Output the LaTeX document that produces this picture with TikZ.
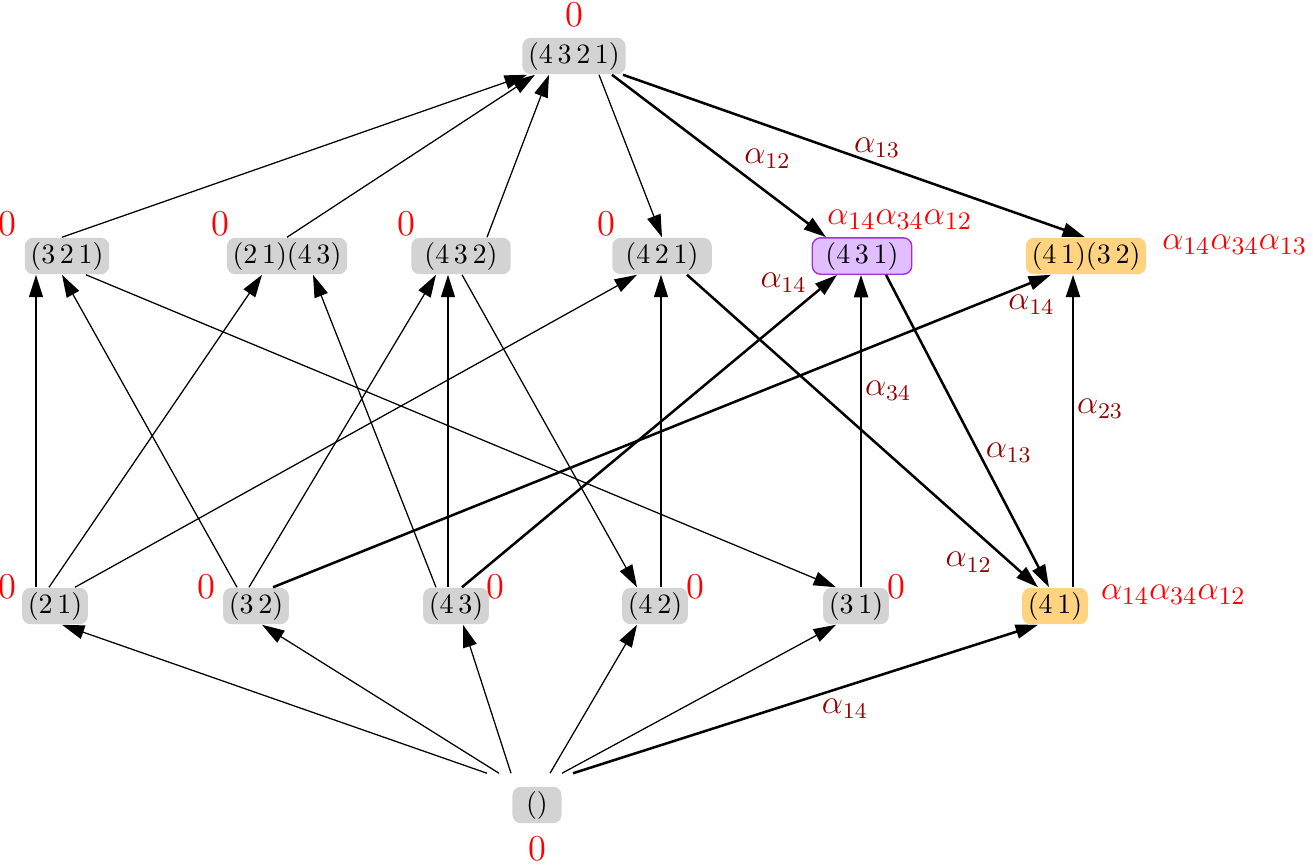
\documentclass[tikz,border=0pt]{standalone}
\usepackage{amsmath}
\usepackage{xcolor}
\usepackage{tikz}
\usetikzlibrary{calc}
\usetikzlibrary{arrows.meta}
\usetikzlibrary{positioning}

\definecolor{permgray}{RGB}{211,211,211}
\definecolor{permlilac}{RGB}{225,190,255}
\definecolor{permviolet}{RGB}{160,50,220}
\definecolor{permorange}{RGB}{255,211,127}
\definecolor{weightred}{RGB}{150,0,0}

\begin{document}
\begin{tikzpicture}[x=0.01255cm, y=-0.01255cm,
  perm/.style={fill=permgray, rounded corners=3pt, inner xsep=2pt, inner ysep=1pt,
    minimum height=13pt, minimum width=17.5pt},
  perm431/.style={perm, fill=permlilac, draw=permviolet, line width=0.5pt},
  perm41/.style={perm, fill=permorange},
  arr/.style={-{Triangle[length=8pt,width=5pt]}, line width=0.45pt},
  bigarr/.style={arr, line width=0.9pt},
  wt/.style={text=weightred, font=\fontsize{11.5}{13}\selectfont, inner sep=1pt},
  redtag/.style={text=red, font=\fontsize{13}{15}\selectfont, inner sep=0pt}]
  \useasboundingbox (0,0) rectangle (1313,864);

  % the permutations
  \node[perm] (n4321) at (574,56) {$(4\,3\,2\,1)$};
  \node[perm] (n321) at (67,256) {$(3\,2\,1)$};
  \node[perm] (n2143) at (287,256) {$(2\,1)(4\,3)$};
  \node[perm, minimum width=35.5pt] (n432) at (461,256) {$(4\,3\,2)$};
  \node[perm, minimum width=35.5pt] (n421) at (662,256) {$(4\,2\,1)$};
  \node[perm431, minimum width=35.5pt] (n431) at (862,256) {$(4\,3\,1)$};
  \node[perm41] (n4132) at (1086,256) {$(4\,1)(3\,2)$};
  \node[perm] (n21) at (55,606) {$(2\,1)$};
  \node[perm] (n32) at (256,606) {$(3\,2)$};
  \node[perm] (n43) at (456,606) {$(4\,3)$};
  \node[perm] (n42) at (655,606) {$(4\,2)$};
  \node[perm] (n31) at (856,606) {$(3\,1)$};
  \node[perm41] (n41) at (1055,606) {$(4\,1)$};
  \node[perm] (root) at (537,805) {$()$};

  % from the identity
  \foreach \q/\px/\qx in {n21/-50/7, n32/-38/6, n43/-26/7, n42/13/-18, n31/25/-20}
    \draw[arr] ($(root.north)+(\px,-13)$) -- ($(\q.south)+(\qx,0)$);
  \draw[bigarr] ($(root.north)+(36,-13)$) -- node[wt, pos=0.585, below=3pt] {$\alpha_{14}$} ($(n41.south)+(-17,0)$);

  % bottom row to middle row
  \foreach \p/\px/\q/\qx in {n21/-19/n321/-31, n21/-6/n2143/-25, n21/20/n421/-25,
      n32/-19/n321/-5, n32/-7/n432/-25, n43/-20/n2143/26, n43/-8/n432/-13, n42/6/n421/-1}
    \draw[arr] ($(\p.north)+(\px,0)$) -- ($(\q.south)+(\qx,0)$);
  \draw[arr] ($(n432.south)+(1,0)$) -- ($(n42.north)+(-18,0)$);
  \draw[arr] ($(n321.south)+(19,0)$) -- ($(n31.north)+(-20,0)$);
  \draw[bigarr] ($(n32.north)+(17,0)$) -- node[wt, pos=0.975, below=3pt] {$\alpha_{14}$} ($(n4132.south)+(-35,0)$);
  \draw[bigarr] ($(n43.north)+(6,0)$) -- node[wt, pos=0.93, above left] {$\alpha_{14}$} ($(n431.south)+(-25,0)$);
  \draw[bigarr] ($(n31.north)+(5,0)$) -- node[wt, pos=0.63, right] {$\alpha_{34}$} ($(n431.south)+(-1,0)$);
  \draw[bigarr] ($(n41.north)+(18,0)$) -- node[wt, pos=0.57, right] {$\alpha_{23}$} ($(n4132.south)+(-13,0)$);
  \draw[bigarr] ($(n421.south)+(25,0)$) -- node[wt, pos=0.92, left=5pt] {$\alpha_{12}$} ($(n41.north)+(-17,0)$);
  \draw[bigarr] ($(n431.south)+(24,0)$) -- node[wt, pos=0.57, right=1pt] {$\alpha_{13}$} ($(n41.north)+(-6,0)$);

  % middle row to the top
  \foreach \p/\px/\qx in {n321/-5/-47, n2143/0/-39, n432/26/-25}
    \draw[arr] ($(\p.north)+(\px,0)$) -- ($(n4321.south)+(\qx,0)$);
  \draw[arr] ($(n4321.south)+(25,0)$) -- (n421.north);
  \draw[bigarr] ($(n4321.south)+(38,0)$) -- node[wt, pos=0.6, above right] {$\alpha_{12}$} ($(n431.north)+(-36,0)$);
  \draw[bigarr] ($(n4321.south)+(49,0)$) -- node[wt, pos=0.55, above=1pt] {$\alpha_{13}$} ($(n4132.north)+(-1,0)$);

  % values
  \node[redtag, above=3.4pt of n4321] (z4321) {0};
  \node[redtag, above left=0pt and 2.7pt of n321] (z321) {0};
  \node[redtag, above left=0pt and -1.2pt of n2143] (z2143) {0};
  \node[redtag, above left=0pt and -1.9pt of n432] (z432) {0};
  \node[redtag, above left=0pt and -1.5pt of n421] (z421) {0};
  \node[redtag, above left=-4.4pt and 1.7pt of n21] (z21) {0};
  \node[redtag, above left=-4.4pt and 2.4pt of n32] (z32) {0};
  \node[redtag, above right=-4.4pt and -1.2pt of n43] (z43) {0};
  \node[redtag, above right=-4.4pt and -0.8pt of n42] (z42) {0};
  \node[redtag, above right=-4.4pt and -0.8pt of n31] (z31) {0};
  \node[redtag, below=4.2pt of root] (zroot) {0};
  \node[redtag, above=2.5pt of n431, xshift=13.5pt] (w431) {$\alpha_{14}\alpha_{34}\alpha_{12}$};
  \node[redtag, right=5.4pt of n4132, yshift=4pt] (w4132) {$\alpha_{14}\alpha_{34}\alpha_{13}$};
  \node[redtag, right=4.3pt of n41, yshift=4pt] (w41) {$\alpha_{14}\alpha_{34}\alpha_{12}$};
\end{tikzpicture}
\end{document}
